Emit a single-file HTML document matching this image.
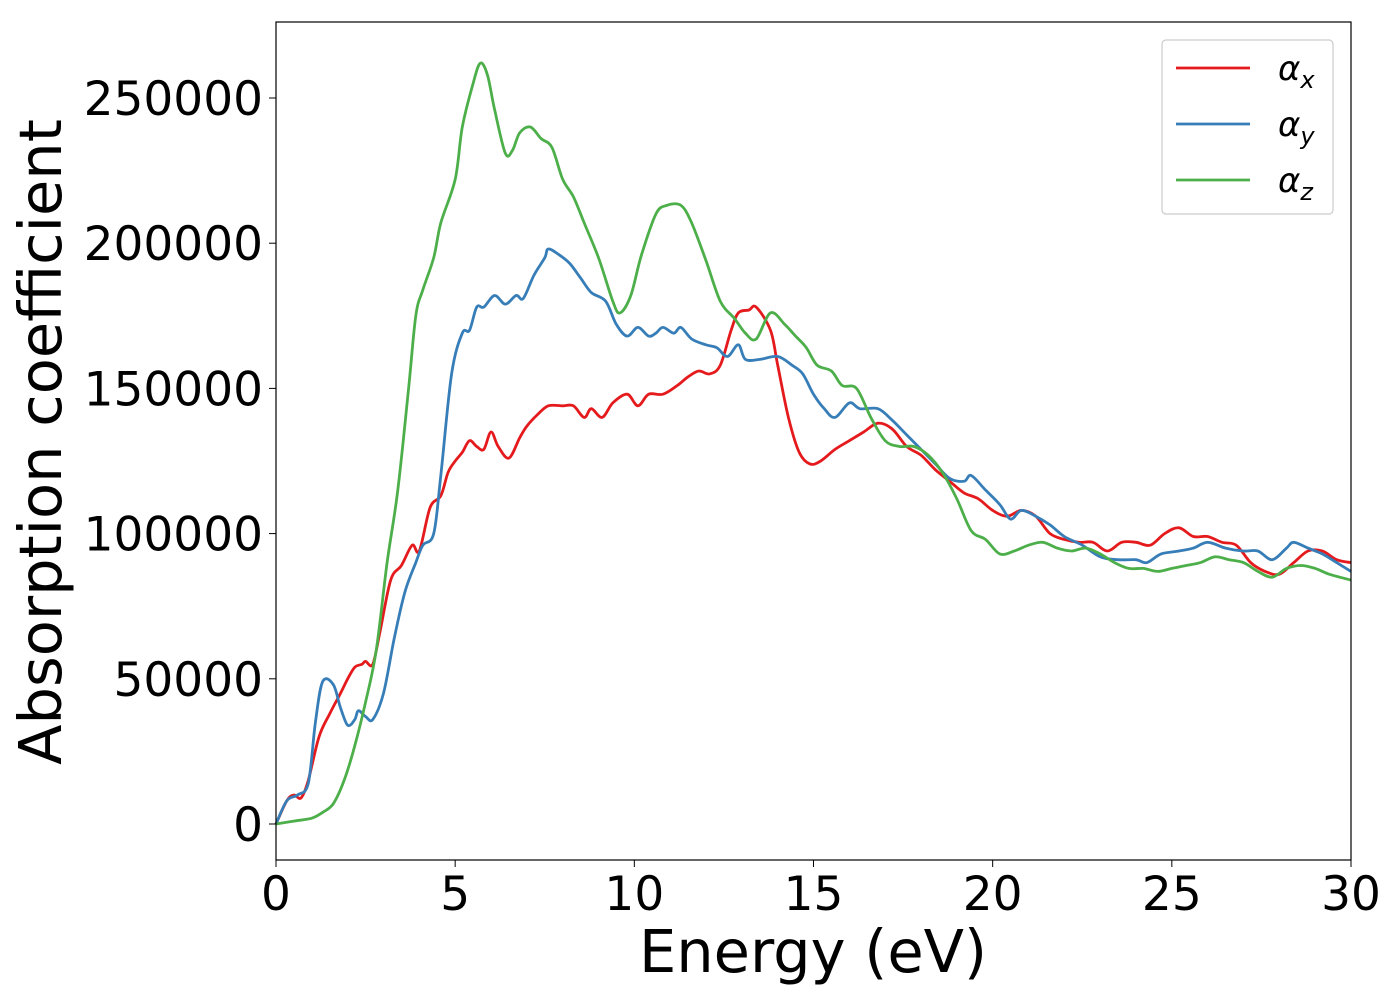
<!DOCTYPE html>
<html><head><meta charset="utf-8"><style>
body{margin:0;background:#fff;font-family:"Liberation Sans","DejaVu Sans",sans-serif}
svg text{font-family:"DejaVu Sans","Liberation Sans",sans-serif}
</style></head><body>
<svg id="chart" width="1400" height="1000" viewBox="0 0 1400 1000" xmlns="http://www.w3.org/2000/svg">
<rect x="0" y="0" width="1400" height="1000" fill="#fff"/>
<g id="series"></g>
<rect x="276" y="22" width="1075" height="838" fill="none" stroke="#000" stroke-width="1.2"/>
<g id="axes"></g>
<text x="813" y="972" font-size="59" text-anchor="middle">Energy (eV)</text>
<text transform="translate(61,442) rotate(-90)" font-size="59" text-anchor="middle">Absorption coefficient</text>
<g>
<rect x="1162" y="40" width="171" height="174" rx="4" fill="#fff" stroke="#ccc" stroke-width="1.2"/>
<line x1="1176" y1="68" x2="1250" y2="68" stroke="#e41a1c" stroke-width="2.8"/>
<text x="1278" y="80" font-size="34" font-style="italic">α<tspan font-size="24" dy="8">x</tspan></text>
<line x1="1176" y1="124" x2="1250" y2="124" stroke="#377eb8" stroke-width="2.8"/>
<text x="1278" y="136" font-size="34" font-style="italic">α<tspan font-size="24" dy="8">y</tspan></text>
<line x1="1176" y1="180" x2="1250" y2="180" stroke="#4daf4a" stroke-width="2.8"/>
<text x="1278" y="192" font-size="34" font-style="italic">α<tspan font-size="24" dy="8">z</tspan></text>
</g>
</svg>
<script>
const xTicks=[0,5,10,15,20,25,30];
const yTicks=[0,50000,100000,150000,200000,250000];
const xE=[0,0.3,0.5,0.7,0.9,1.2,1.5,1.8,2.0,2.2,2.4,2.5,2.7,2.9,3.2,3.5,3.8,4.0,4.3,4.6,4.8,5.0,5.2,5.4,5.6,5.8,6.0,6.2,6.5,6.8,7.0,7.3,7.6,8.0,8.3,8.6,8.8,9.1,9.4,9.8,10.1,10.4,10.8,11.2,11.5,11.8,12.1,12.4,12.7,12.9,13.2,13.4,13.8,14.0,14.3,14.6,14.9,15.2,15.6,16.0,16.4,16.8,17.2,17.6,18.0,18.4,18.8,19.2,19.6,20.0,20.4,20.8,21.2,21.6,22.0,22.4,22.8,23.2,23.6,24.0,24.4,24.8,25.2,25.6,26.0,26.4,26.8,27.2,27.6,28.0,28.4,28.8,29.2,29.6,30];
const xV=[0,8,10,9,15,30,38,45,50,54,55,56,55,66,84,89,96,94,109,113,121,125,128,132,130,129,135,130,126,133,137,141,144,144,144,140,143,140,145,148,144,148,148,151,154,156,155,158,170,176,177,178,170,158,140,128,124,125,129,132,135,138,136,130,127,122,118,114,112,108,106,108,106,100,98,97,97,94,97,97,96,100,102,99,99,97,96,90,87,86,90,94,94,91,90];
const yE=[0,0.3,0.6,0.9,1.1,1.3,1.6,1.8,2.0,2.2,2.3,2.5,2.7,3.0,3.3,3.6,3.9,4.1,4.4,4.6,4.9,5.2,5.4,5.6,5.8,6.1,6.4,6.7,6.9,7.2,7.5,7.6,7.9,8.2,8.5,8.8,9.2,9.5,9.8,10.1,10.4,10.6,10.8,11.1,11.3,11.6,12.0,12.3,12.6,12.9,13.1,13.5,14.0,14.4,14.7,15.0,15.3,15.6,16.0,16.3,16.8,17.2,17.6,18.0,18.4,18.8,19.2,19.4,19.8,20.2,20.5,20.8,21.2,21.6,22.0,22.5,23.0,23.5,24.0,24.3,24.7,25.2,25.6,26.0,26.5,27.0,27.4,27.8,28.2,28.4,28.8,29.2,29.6,30];
const yV=[0,8,10,14,35,49,48,40,34,36,39,37,36,45,64,80,90,96,100,120,155,169,170,178,178,182,179,182,181,189,195,198,196,193,188,183,180,172,168,171,168,169,171,169,171,167,165,164,161,165,160,160,161,158,155,148,143,140,145,143,143,139,134,129,124,119,118,120,115,110,105,108,106,103,99,96,92,91,91,90,93,94,95,97,95,94,94,91,95,97,95,93,90,87];
const zE=[0,0.5,1.0,1.3,1.6,1.9,2.2,2.5,2.8,3.1,3.4,3.7,3.9,4.1,4.4,4.6,5.0,5.2,5.5,5.7,5.9,6.1,6.4,6.6,6.8,7.1,7.4,7.7,8.0,8.3,8.6,9.0,9.4,9.6,9.9,10.2,10.6,10.9,11.3,11.6,12.0,12.4,12.8,13.1,13.4,13.8,14.2,14.5,14.8,15.1,15.5,15.8,16.2,16.6,17.0,17.4,17.8,18.2,18.6,19.0,19.4,19.8,20.2,20.6,21.0,21.4,21.8,22.2,22.6,23.0,23.4,23.8,24.2,24.6,25.0,25.4,25.8,26.2,26.6,27.0,27.4,27.8,28.2,28.6,29.0,29.4,30];
const zV=[0,1,2,4,7,15,27,42,60,90,115,150,175,184,195,207,222,240,255,262,258,246,231,232,238,240,236,233,222,216,207,195,180,176,182,196,210,213,213,207,194,180,174,169,167,176,172,168,164,158,156,151,150,140,132,130,130,127,121,112,101,98,93,94,96,97,95,94,95,93,90,88,88,87,88,89,90,92,91,90,87,85,88,89,88,86,84];
const X=e=>276+e*(1075/30);
const Y=v=>824-v*(726/250000);
const NS='http://www.w3.org/2000/svg';
const axes=document.getElementById('axes');
xTicks.forEach(t=>{
  const l=document.createElementNS(NS,'line');
  l.setAttribute('x1',X(t));l.setAttribute('x2',X(t));l.setAttribute('y1',860);l.setAttribute('y2',867);l.setAttribute('stroke','#000');
  
  
  axes.appendChild(l);
  const tx=document.createElementNS(NS,'text');
  tx.setAttribute('x',X(t));tx.setAttribute('y',910);tx.setAttribute('font-size','47');tx.setAttribute('text-anchor','middle');
  tx.textContent=t;
  
  
  axes.appendChild(tx);
});
yTicks.forEach(t=>{
  const l=document.createElementNS(NS,'line');
  l.setAttribute('x1',269);l.setAttribute('x2',276);l.setAttribute('y1',Y(t));l.setAttribute('y2',Y(t));l.setAttribute('stroke','#000');
  
  
  axes.appendChild(l);
  const tx=document.createElementNS(NS,'text');
  tx.setAttribute('x',263);tx.setAttribute('y',Y(t)+17);tx.setAttribute('font-size','47');tx.setAttribute('text-anchor','end');
  tx.textContent=t;
  
  
  axes.appendChild(tx);
});
function smooth(E,V){
  const p=E.map((e,i)=>[X(e),Y(V[i]*1000)]);
  let d='M'+p[0][0].toFixed(1)+','+p[0][1].toFixed(1);
  for(let i=0;i<p.length-1;i++){
    const p0=p[Math.max(0,i-1)],p1=p[i],p2=p[i+1],p3=p[Math.min(p.length-1,i+2)];
    const c1=[p1[0]+(p2[0]-p0[0])/6,p1[1]+(p2[1]-p0[1])/6];
    const c2=[p2[0]-(p3[0]-p1[0])/6,p2[1]-(p3[1]-p1[1])/6];
    d+='C'+c1[0].toFixed(1)+','+c1[1].toFixed(1)+' '+c2[0].toFixed(1)+','+c2[1].toFixed(1)+' '+p2[0].toFixed(1)+','+p2[1].toFixed(1);
  }
  return d;
}
const g=document.getElementById('series');
[[xE,xV,'#e41a1c','series-alpha-x'],[yE,yV,'#377eb8','series-alpha-y'],[zE,zV,'#4daf4a','series-alpha-z']].forEach(s=>{
  const p=document.createElementNS(NS,'path');
  p.setAttribute('d',smooth(s[0],s[1]));
  p.setAttribute('fill','none');p.setAttribute('stroke',s[2]);p.setAttribute('stroke-width','2.8');p.setAttribute('stroke-linejoin','round');
  
  
  g.appendChild(p);
});
</script>
</body></html>
